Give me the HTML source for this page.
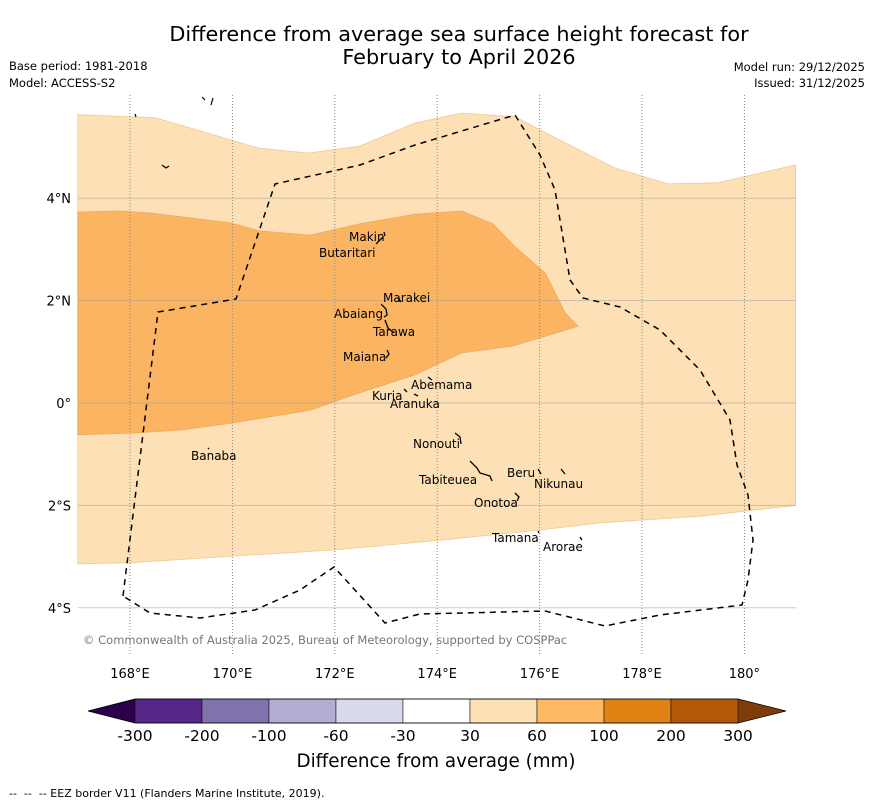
<!DOCTYPE html>
<html><head><meta charset="utf-8"><style>
body{margin:0;background:#fff;font-family:"DejaVu Sans","Liberation Sans",sans-serif}
svg text{font-family:"DejaVu Sans","Liberation Sans",sans-serif}
</style></head><body>
<svg id="c" width="873" height="804" viewBox="0 0 873 804" xmlns="http://www.w3.org/2000/svg">
<text x="459" y="41" font-size="20.8" text-anchor="middle">Difference from average sea surface height forecast for</text>
<text x="459" y="64" font-size="20.8" text-anchor="middle">February to April 2026</text>
<text x="9" y="70" font-size="11.5">Base period: 1981-2018</text>
<text x="9" y="87" font-size="11.5">Model: ACCESS-S2</text>
<text x="865" y="71" font-size="11.5" text-anchor="end">Model run: 29/12/2025</text>
<text x="865" y="87" font-size="11.5" text-anchor="end">Issued: 31/12/2025</text>
<g id="map"></g>
<g id="cb"></g>
<text x="436" y="767" font-size="18.3" text-anchor="middle">Difference from average (mm)</text>
<text x="9" y="797" font-size="11" style="white-space:pre">--  --  -- EEZ border V11 (Flanders Marine Institute, 2019).</text>
</svg>
<script>
const lonTicks=[168,170,172,174,176,178,180];
const latTicks=[4,2,0,-2,-4];
const lightLon=[166.98,168.49,169.46,170.50,171.48,172.49,173.57,174.48,175.52,176.50,177.47,178.51,179.48,181.0,181.0,179.13,177.18,176.0,174.05,172.0,170.0,168.0,166.98];
const lightLat=[5.63,5.57,5.29,4.98,4.88,5.02,5.47,5.66,5.59,5.08,4.59,4.28,4.30,4.65,-2.0,-2.21,-2.34,-2.48,-2.68,-2.87,-2.99,-3.12,-3.14];
const darkLon=[166.98,167.8,168.39,169.37,169.95,170.54,171.52,172.49,173.57,174.48,175.09,175.52,176.11,176.50,176.75,176.0,175.46,174.48,173.57,172.49,171.52,170.0,168.98,168.0,166.98];
const darkLat=[3.73,3.75,3.71,3.59,3.52,3.36,3.28,3.50,3.69,3.75,3.50,3.05,2.54,1.76,1.50,1.27,1.11,0.98,0.55,0.20,-0.14,-0.39,-0.53,-0.59,-0.62];
const cbBounds=["-300","-200","-100","-60","-30","30","60","100","200","300"];
const cbColors=["#542788","#8073ac","#b2abd2","#d8daeb","#ffffff","#fee0b6","#fdb863","#e08214","#b35806"];
const NS="http://www.w3.org/2000/svg";
const X=lon=>130+(lon-168)*51.2, Y=lat=>403-lat*51.2;
const map=document.getElementById('map'), cb=document.getElementById('cb');
function mk(p,t,a){const e=document.createElementNS(NS,t);for(const k in a)e.setAttribute(k,a[k]);p.appendChild(e);return e;}
function poly(lons,lats){return lons.map((l,i)=>X(l).toFixed(1)+','+Y(lats[i]).toFixed(1)).join(' ');}
let e=mk(map,'polygon',{points:poly(lightLon,lightLat),fill:'#fee0b6',stroke:'#f2c890','stroke-width':0.8});


e=mk(map,'polygon',{points:poly(darkLon,darkLat),fill:'#fbb562',stroke:'#eeaa60','stroke-width':0.8});


latTicks.forEach(t=>{
 e=mk(map,'line',{x1:78,x2:796,y1:Y(t),y2:Y(t),stroke:'#999','stroke-opacity':0.5,'stroke-width':1});
 
 
 e=mk(map,'text',{x:71,y:Y(t)+5,'font-size':13,'text-anchor':'end'});
 e.textContent=t>0?t+'°N':t<0?(-t)+'°S':'0°';
 
 
});
lonTicks.forEach(t=>{
 e=mk(map,'line',{x1:X(t),x2:X(t),y1:95,y2:655,stroke:'#888','stroke-width':1,'stroke-dasharray':'1,2'});
 
 
 e=mk(map,'text',{x:X(t),y:678,'font-size':13,'text-anchor':'middle'});
 e.textContent=t===180?'180°':t+'°E';
 
 
});
e=mk(map,'path',{d:'M123,596 L158,312 L236,299 L275,184 L360,165 L415,145 L515,115 L540,155 L555,190 L570,280 L583,298 L620,307 L660,330 L700,370 L730,420 L737,465 L748,495 L753,540 L748,580 L742,605 L660,615 L605,626 L545,611 L420,614 L385,623 L334,567 L300,590 L255,610 L200,618 L150,613 Z',fill:'none',stroke:'#000','stroke-width':1.5,'stroke-dasharray':'6,5'});


const islands=[["Makin",349,241,'M384,232 L385,236 M383,237 L376,244'],["Butaritari",319,257,''],["Marakei",383,302,'M398,298 L401,302'],["Abaiang",334,318,'M381,304 L386,309 L387,315 L384,317'],["Tarawa",373,336,'M385,320 L388,328 L394,333'],["Maiana",343,361,'M387,350 L389,354 L386,358'],["Abemama",411,389,'M428,377 L432,380'],["Kuria",372,400,'M404,389 L407,392'],["Aranuka",390,408,'M414,394 L418,396'],["Nonouti",413,448,'M455,433 L460,437 L461,444'],["Banaba",191,460,'M208,448 L209,449'],["Tabiteuea",419,484,'M470,461 L477,468 L480,473 L490,476 L492,481'],["Beru",507,477,'M538,469 L541,474'],["Nikunau",534,488,'M561,469 L565,474'],["Onotoa",474,507,'M515,493 L519,497 L517,501'],["Tamana",492,542,'M538,531 L539,533'],["Arorae",543,551,'M580,537 L582,540']];
islands.forEach(d=>{
 e=mk(map,'text',{x:d[1],y:d[2],'font-size':12});
 e.textContent=d[0];
 
 
 if(d[3]){const p=mk(map,'path',{d:d[3],fill:'none',stroke:'#000','stroke-width':1.3});
 
 }
});
e=mk(map,'path',{d:'M135,114 L136,117 M202,97 L205,100 M213,98 L211,105 M162,165 L166,168 L169,166',fill:'none',stroke:'#000','stroke-width':1.2});


e=mk(map,'text',{x:83,y:644,'font-size':11.5,fill:'#777'});
e.textContent='© Commonwealth of Australia 2025, Bureau of Meteorology, supported by COSPPac';


const cbX=135,cbW=603,cbY=699,cbH=24,n=cbColors.length,w=cbW/n;
e=mk(cb,'polygon',{points:`${cbX},${cbY} ${cbX},${cbY+cbH} 88,${cbY+cbH/2}`,fill:'#2d004b'});


e=mk(cb,'polygon',{points:`${cbX+cbW},${cbY} ${cbX+cbW},${cbY+cbH} 786,${cbY+cbH/2}`,fill:'#7f3b08'});


cbColors.forEach((c,i)=>{
 e=mk(cb,'rect',{x:cbX+i*w,y:cbY,width:w,height:cbH,fill:c,stroke:'#000','stroke-width':0.5});
 
 
});
cbBounds.forEach((b,i)=>{
 e=mk(cb,'text',{x:cbX+i*w,y:741,'font-size':15.5,'text-anchor':'middle'});
 e.textContent=b;
 
 
});
mk(cb,'polygon',{points:`88,${cbY+cbH/2} ${cbX},${cbY} ${cbX+cbW},${cbY} 786,${cbY+cbH/2} ${cbX+cbW},${cbY+cbH} ${cbX},${cbY+cbH}`,fill:'none',stroke:'#000','stroke-width':0.8});
</script>
</body></html>
